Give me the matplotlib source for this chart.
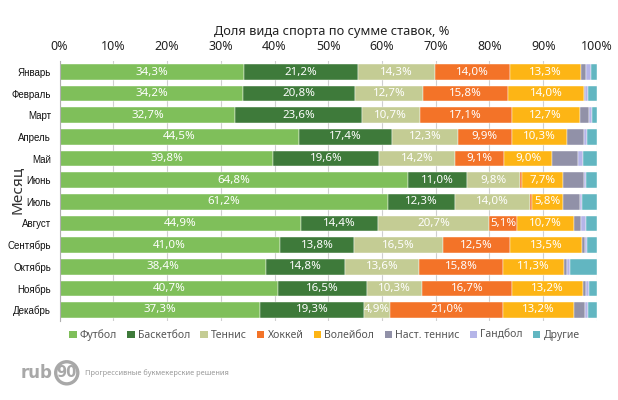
import matplotlib
matplotlib.use("Agg")
import matplotlib.pyplot as plt
from matplotlib.patches import Patch
import numpy as np

months = ["Январь", "Февраль", "Март", "Апрель", "Май", "Июнь",
          "Июль", "Август", "Сентябрь", "Октябрь", "Ноябрь", "Декабрь"]

sports = ["Футбол", "Баскетбол", "Теннис", "Хоккей", "Волейбол",
          "Наст. теннис", "Гандбол", "Другие"]

football   = [34.3, 34.2, 32.7, 44.5, 39.8, 64.8, 61.2, 44.9, 41.0, 38.4, 40.7, 37.3]
basketball = [21.2, 20.8, 23.6, 17.4, 19.6, 11.0, 12.3, 14.4, 13.8, 14.8, 16.5, 19.3]
tennis     = [14.3, 12.7, 10.7, 12.3, 14.2, 9.8, 14.0, 20.7, 16.5, 13.6, 10.3, 4.9]
hockey     = [14.0, 15.8, 17.1, 9.9, 9.1, 0.4, 0.4, 5.1, 12.5, 15.8, 16.7, 21.0]
volleyball = [13.3, 14.0, 12.7, 10.3, 9.0, 7.7, 5.8, 10.7, 13.5, 11.3, 13.2, 13.2]
table_ten  = [0.9, 0.3, 1.8, 3.1, 4.8, 3.8, 3.2, 1.2, 0.4, 0.5, 0.6, 2.0]
handball   = [0.8, 0.6, 0.5, 0.7, 0.9, 0.4, 0.4, 0.9, 0.5, 0.6, 0.5, 0.6]
other      = [1.2, 1.6, 0.9, 1.8, 2.6, 2.1, 2.7, 2.1, 1.8, 5.0, 1.5, 1.7]

colors = ["#7fbf5a", "#3e7a3a", "#c4cc94", "#f37328", "#fdb515",
          "#9191a8", "#b5b5e8", "#62b6c1"]

series = [football, basketball, tennis, hockey, volleyball, table_ten, handball, other]

plt.rcParams["font.family"] = ["Noto Sans", "DejaVu Sans"]

fig = plt.figure(figsize=(6.18, 4.0), dpi=100)
ax = fig.add_axes([0.0963, 0.198, 0.966 - 0.0963, 0.847 - 0.198])

y = np.arange(len(months))
left = np.zeros(len(months))
for i, (vals, col) in enumerate(zip(series, colors)):
    vals = np.array(vals)
    ax.barh(y, vals, left=left, height=0.72, color=col,
            edgecolor="white", linewidth=0.3, zorder=2)
    if i < 5:
        for yy, l, v in zip(y, left, vals):
            if v >= 4:
                ax.text(l + v / 2, yy, f"{v:.1f}%".replace(".", ","),
                        ha="center", va="center", color="white",
                        fontsize=8.3, zorder=3)
    left += vals

ax.set_xlim(0, 100)
ax.set_ylim(len(months) - 0.5, -0.5)
ax.set_yticks(y)
ax.set_yticklabels(months, family=["Liberation Sans Narrow", "Liberation Sans"],
                   fontsize=7, color="#111111")
ax.xaxis.tick_top()
ax.set_xticks(np.arange(0, 101, 10))
ax.set_xticklabels([f"{t}%" for t in range(0, 101, 10)], fontsize=9, color="#222222")
ax.tick_params(axis="x", length=0, pad=6)
ax.tick_params(axis="y", length=0, pad=6)
ax.xaxis.grid(True, color="#cfcfcf", linewidth=0.8, zorder=0)
ax.set_axisbelow(True)
for s in ["top", "right", "bottom"]:
    ax.spines[s].set_visible(False)
ax.spines["left"].set_color("#b0b0b0")

fig.text(0.537, 0.922, "Доля вида спорта по сумме ставок, %",
         ha="center", va="center", fontsize=9.2, color="#222222")
fig.text(0.027, 0.525, "Месяц", rotation=90, ha="center", va="center",
         fontsize=11, color="#333333")

handles = [Patch(facecolor=c, edgecolor="none") for c in colors]
fig.legend(handles, sports, loc="center", bbox_to_anchor=(0.525, 0.162), ncol=8,
           frameon=False, fontsize=7.5, labelcolor="#555555",
           handlelength=0.7, handleheight=0.7, handletextpad=0.3,
           columnspacing=1.0)

# logo
fig.text(0.034, 0.068, "rub", fontsize=12, fontweight="bold", color="#a8a8a8",
         family="DejaVu Sans", ha="left", va="center")
fig.text(0.108, 0.068, "90", fontsize=10.5, fontweight="bold", color="#a8a8a8",
         family="DejaVu Sans", ha="center", va="center",
         bbox=dict(boxstyle="circle,pad=0.06", facecolor="none",
                   edgecolor="#a8a8a8", linewidth=2.4))
fig.text(0.138, 0.068, "Прогрессивные букмекерские решения", fontsize=5.3,
         color="#999999", ha="left", va="center")

fig.savefig("out.png", dpi=100)
